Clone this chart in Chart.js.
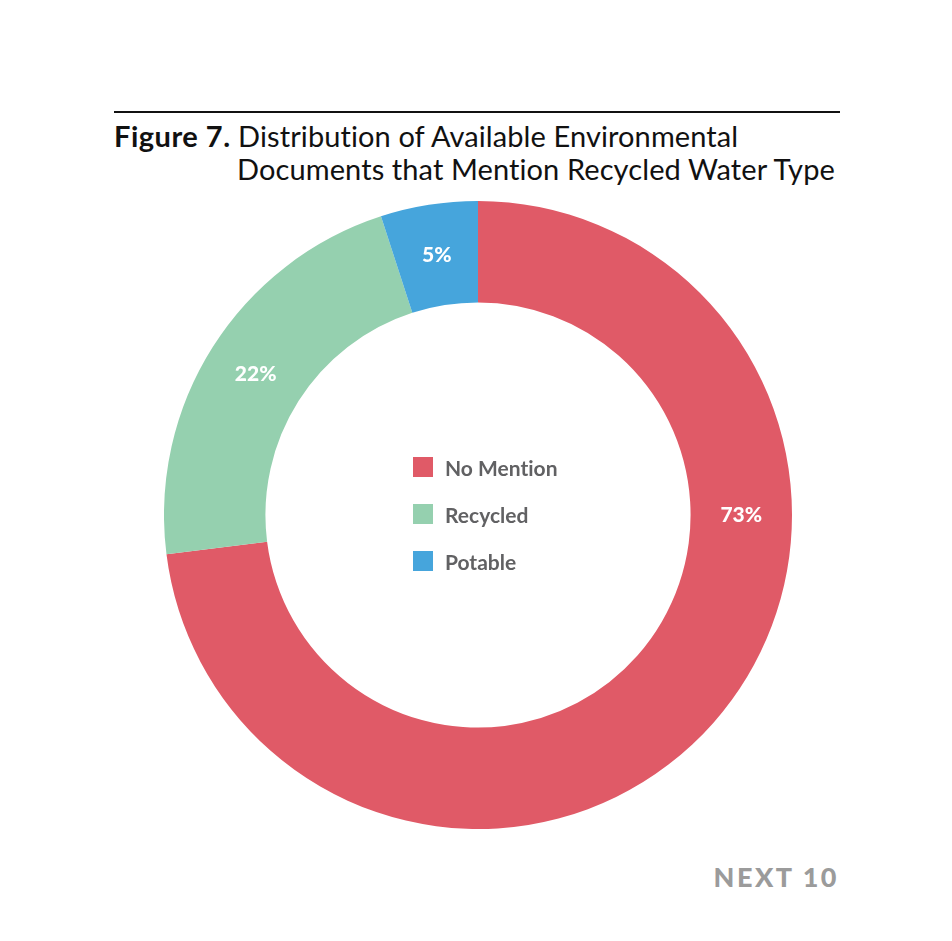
<!DOCTYPE html>
<html>
<head>
    <meta charset="utf-8" />
    <title>Figure 7</title>
    <script src="https://cdn.jsdelivr.net/npm/chart.js/dist/chart.umd.js"></script>
    <style>
        body {
            margin: 0;
            background: #ffffff;
            width: 952px;
            height: 941px;
            position: relative;
            overflow: hidden;
            font-family: "Lato", "Noto Sans", sans-serif;
            font-variant-ligatures: none;
        }

        #rule {
            position: absolute;
            left: 114px;
            top: 111px;
            width: 726px;
            height: 2px;
            background: #111;
        }

        #title {
            position: absolute;
            left: 114px;
            top: 119px;
            font-size: 29px;
            letter-spacing: 0.1px;
            line-height: 33px;
            color: #111;
        }

        #title b {
            font-weight: 700;
            letter-spacing: 0.5px;
        }

        #title .l2 {
            padding-left: 123px;
        }

        #chartBox {
            position: absolute;
            left: 164px;
            top: 201px;
            width: 628px;
            height: 628px;
        }

        #legend {
            position: absolute;
            left: 413px;
            top: 455px;
            font-size: 21px;
            font-weight: 700;
            color: #616163;
        }

        .item {
            height: 47px;
            display: flex;
            align-items: flex-start;
        }

        .sw {
            width: 20px;
            height: 20px;
            margin-top: 2px;
            margin-right: 12px;
        }

        #brand {
            position: absolute;
            right: 113px;
            top: 860px;
            font-size: 27px;
            font-weight: 900;
            letter-spacing: 2.5px;
            color: #9b9b9b;
        }
    </style>
</head>
<body>
    <div id="rule"></div>
    <div id="title"><b>Figure 7.</b> Distribution of Available Environmental<br /><span class="l2">Documents that Mention Recycled Water Type</span></div>
    <div id="chartBox"><canvas id="myChart"></canvas></div>
    <div id="legend"></div>
    <div id="brand">NEXT 10</div>
    <script>
        const categories = ["No Mention", "Recycled", "Potable"];
        const shares = [73, 22, 5];
        const colors = ["#E05A67", "#95D0AF", "#46A5DC"];

        // center legend
        var legend = document.getElementById("legend");
        categories.forEach(function (c, i) {
            var row = document.createElement("div");
            row.className = "item";
            row.innerHTML = '<span class="sw" style="background:' + colors[i] + '"></span><span>' + c + '</span>';
            legend.appendChild(row);
        });

        // percent labels inside the ring
        const ringLabels = {
            id: 'ringLabels',
            afterDatasetsDraw(chart, args, opts) {
                const ctx = chart.ctx;
                const meta = chart.getDatasetMeta(0);
                ctx.save();
                ctx.fillStyle = '#fff';
                ctx.font = '900 21px Lato, "Noto Sans", sans-serif';
                ctx.textAlign = 'center';
                ctx.textBaseline = 'middle';
                meta.data.forEach(function (arc, i) {
                    const p = arc.getProps(['x', 'y', 'startAngle', 'endAngle', 'innerRadius', 'outerRadius'], true);
                    let a = (p.startAngle + p.endAngle) / 2;
                    if (opts.angles && opts.angles[i] !== undefined) a = opts.angles[i];
                    const r = (p.innerRadius + p.outerRadius) / 2;
                    ctx.fillText(shares[i] + '%', p.x + Math.cos(a) * r, p.y + Math.sin(a) * r);
                });
                ctx.restore();
            }
        };

        var myChart = new Chart(document.getElementById('myChart'), {
            type: 'doughnut',
            data: {
                labels: categories,
                datasets: [{
                    data: shares,
                    backgroundColor: colors,
                    borderWidth: 0,
                    hoverOffset: 0
                }]
            },
            options: {
                responsive: true,
                maintainAspectRatio: false,
                animation: false,
                cutout: '67.7%',
                layout: { padding: 0 },
                plugins: {
                    legend: { display: false },
                    tooltip: { enabled: false },
                    // the big slice's label sits at the right side of the ring
                    ringLabels: { angles: { 0: 0 } }
                }
            },
            plugins: [ringLabels]
        });
    </script>
</body>
</html>
